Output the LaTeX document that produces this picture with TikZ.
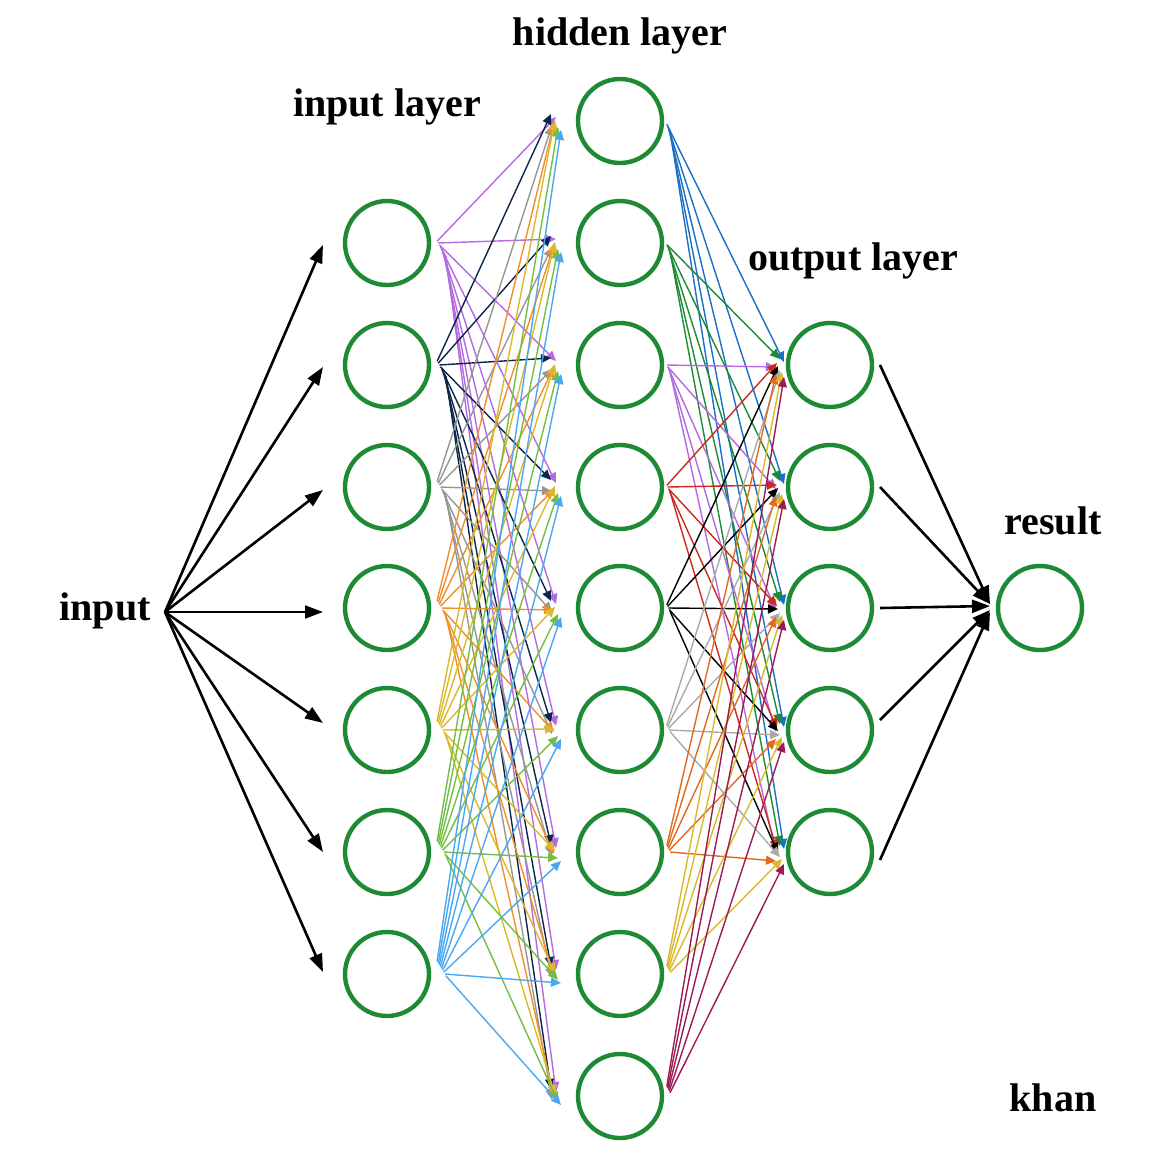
\documentclass[tikz,border=0pt]{standalone}
\usepackage{fontspec}
\setmainfont{Liberation Serif}
\usetikzlibrary{arrows.meta,calc}
\definecolor{ngreen}{RGB}{30,138,52}
\definecolor{cpurple}{RGB}{179,106,226}
\definecolor{cnavy}{RGB}{12,38,75}
\definecolor{cgray}{RGB}{150,150,150}
\definecolor{corange}{RGB}{242,142,43}
\definecolor{cgold}{RGB}{219,185,42}
\definecolor{clgreen}{RGB}{114,191,68}
\definecolor{clblue}{RGB}{74,168,240}
\definecolor{hblue}{RGB}{26,111,199}
\definecolor{hgreen}{RGB}{29,138,53}
\definecolor{hred}{RGB}{204,42,30}
\definecolor{hlgray}{RGB}{170,170,170}
\definecolor{horange}{RGB}{226,106,32}
\definecolor{hmaroon}{RGB}{155,27,84}
\tikzset{
  neuron/.style={circle,draw=ngreen,line width=4.4pt,minimum size=84pt,inner sep=0pt,fill=white},
  lbl/.style={font=\fontsize{40}{48}\selectfont\bfseries,inner sep=0pt},
  bigarrow/.style={line width=2.6pt,-{Triangle[length=18pt,width=13pt]}},
  thin/.style={line width=1.4pt,-{Triangle[length=10pt,width=9pt]}}
}
\begin{document}
\begin{tikzpicture}[x=1pt,y=-1pt]
\useasboundingbox (0,0) rectangle (1162,1160);
% nodes
\foreach \k/\yy in {1/243,2/365,3/487,4/608,5/730,6/852,7/974}
  \node[neuron] (I\k) at (387,\yy) {};
\foreach \k/\yy in {1/121,2/243,3/365,4/487,5/608,6/730,7/852,8/974,9/1096}
  \node[neuron] (H\k) at (620,\yy) {};
\foreach \k/\yy in {1/365,2/487,3/608,4/730,5/852}
  \node[neuron] (O\k) at (830,\yy) {};
\node[neuron] (R) at (1040,608) {};
% labels
\node[lbl] (tin) at (387,107) {input layer};
\node[lbl] (thid) at (620,36) {hidden layer};
\node[lbl] (tout) at (853,261) {output layer};
\node[lbl] (tres) at (1053,521) {result};
\node[lbl] (tkhan) at (1053,1098) {khan};
\node[lbl] (tinput) at (105,611) {input};
% input fan
\coordinate (src) at (165,612);
\foreach \k/\dy/\w in {1/2/2.6,2/2/2.6,3/3/2.6,4/4/1.8,5/-7/2.6,6/0/2.6,7/-2/2.6}
  \draw[bigarrow,line width=\w pt] (src) -- ($(I\k)+(-64,\dy)$);
% input -> hidden
\foreach \i/\c/\ex/\ey in {1/cpurple/2/-4,2/cnavy/-3/-7,3/cgray/-2/4,4/corange/0/2,5/cgold/1/-1,6/clgreen/4/6,7/clblue/7/9}{
  \foreach \j in {1,...,9}{
    \draw[thin,draw=\c,fill=\c] ($(I\i)+({49+1.1*\j},{1.8*(\j-\i-1)})$) -- ($(H\j)+({-66+\ex},\ey)$);
  }
}
% hidden -> output
\foreach \h/\c/\ex/\ey in {1/hblue/4/-3,2/hgreen/0/-6,3/cpurple/-4/2,4/hred/-3/-2,5/black/-2/1,6/hlgray/0/5,7/horange/-4/9,8/cgold/2/7,9/hmaroon/4/12}{
  \foreach \o in {1,...,5}{
    \draw[thin,draw=\c,fill=\c] ($(H\h)+({46+0.8*\o},{1.6*(\o+2-\h)})$) -- ($(O\o)+({-50+\ex},\ey)$);
  }
}
% output -> result
\foreach \o/\sy/\ey in {1/0/-4,2/0/-4,3/0/-2,4/-10/2,5/8/4}
  \draw[bigarrow] ($(O\o)+(50,\sy)$) -- ($(R)+(-50,\ey)$);
\end{tikzpicture}
\end{document}
